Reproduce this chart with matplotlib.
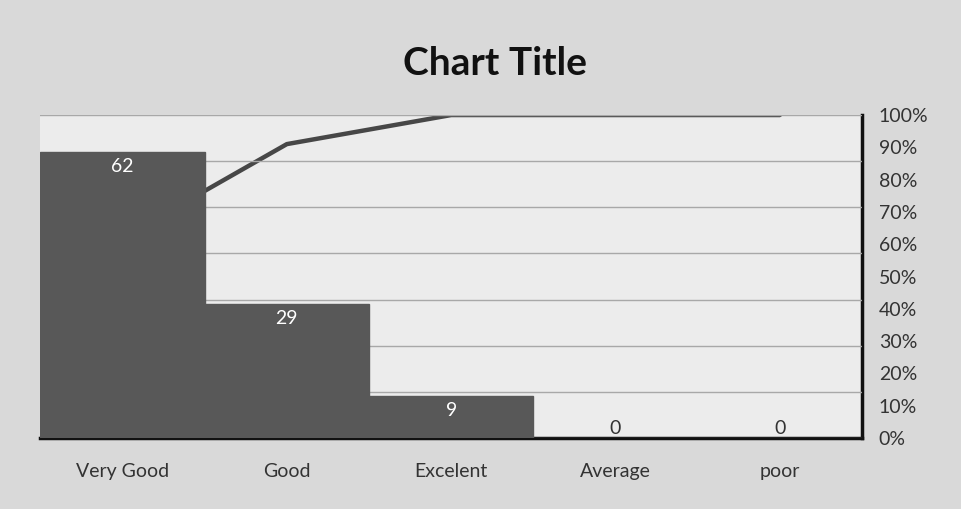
import matplotlib
matplotlib.use("Agg")
import matplotlib.pyplot as plt
from matplotlib.ticker import PercentFormatter, MultipleLocator

categories = ["Very Good", "Good", "Excelent", "Average", "poor"]
counts = [62, 29, 9, 0, 0]
cumulative_pct = [0.62, 0.91, 1.00, 1.00, 1.00]
pct_ticks = [0.0, 0.1, 0.2, 0.3, 0.4, 0.5, 0.6, 0.7, 0.8, 0.9, 1.0]

plt.rcParams['font.family'] = ['Lato', 'DejaVu Sans']

fig = plt.figure(figsize=(9.61, 5.09), dpi=100, facecolor='#d9d9d9')
ax = fig.add_axes([0.042, 0.1395, 0.855, 0.6345])
ax2 = ax.twinx()

x = list(range(len(categories)))
ax.set_xlim(-0.5, len(categories) - 0.5)
ax.set_ylim(0, 70)
ax.yaxis.set_major_locator(MultipleLocator(10))
ax.grid(axis='y', color='#a8a8a8', linewidth=1.0)
ax.set_axisbelow(True)

# line drawn behind bars
ax.set_zorder(2)
ax.patch.set_visible(False)
ax2.set_zorder(1)
ax2.patch.set_visible(True)
ax2.patch.set_facecolor('#ececec')

ax.bar(x, counts, width=1.0, color='#585858', edgecolor='#585858', zorder=3)
for xi, v in zip(x, counts):
    if v > 0:
        ax.text(xi, v - 1.3, str(v), ha='center', va='top', color='white', fontsize=14)
    else:
        ax.text(xi, 0.2, str(v), ha='center', va='bottom', color='#333333', fontsize=14)

ax2.plot(x, cumulative_pct, color='#474747', linewidth=3.2, solid_capstyle='round', zorder=1)
ax2.set_ylim(0, 1.0)
ax2.set_yticks(pct_ticks)
ax2.yaxis.set_major_formatter(PercentFormatter(1.0, decimals=0))
ax2.tick_params(axis='y', length=0, labelsize=14, colors='#333333', pad=12)

ax.set_xticks(x)
ax.set_xticklabels(categories)
ax.tick_params(axis='x', length=0, labelsize=14, colors='#333333', pad=18)
ax.tick_params(axis='y', left=False, labelleft=False)

for a in (ax, ax2):
    for s in ('left', 'top', 'right', 'bottom'):
        a.spines[s].set_visible(False)
ax.spines['bottom'].set_visible(True)
ax.spines['bottom'].set_linewidth(2.5)
ax.spines['bottom'].set_color('#111111')
ax2.spines['right'].set_visible(True)
ax2.spines['right'].set_linewidth(2.5)
ax2.spines['right'].set_color('#111111')

fig.text(0.515, 0.875, "Chart Title", ha='center', va='center', fontsize=28, fontweight='bold', color='#111111')

fig.savefig("out.png", dpi=100, facecolor=fig.get_facecolor())
